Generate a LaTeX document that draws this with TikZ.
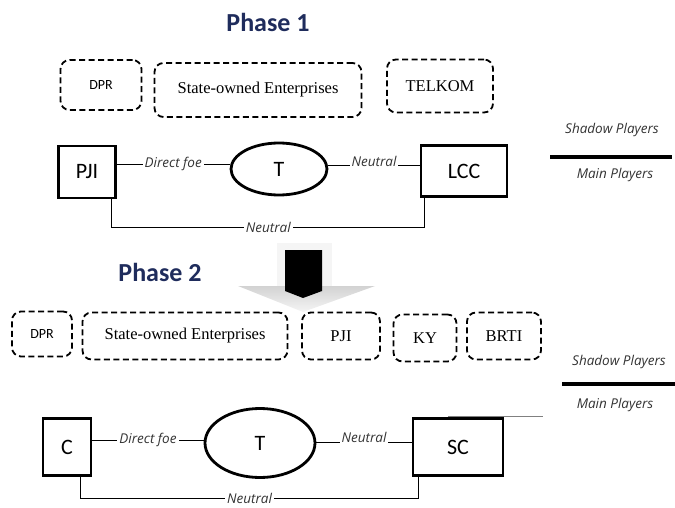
\documentclass[tikz,border=0pt]{standalone}
\usepackage{fontspec}
\setmainfont{Liberation Serif}
\setsansfont{Carlito}
\newfontfamily\labfont{Open Sans}
\usetikzlibrary{shapes.geometric}
\definecolor{phaseblue}{RGB}{31,44,92}
\begin{document}
\begin{tikzpicture}[x=1pt, y=-1pt, line join=miter,
    shadow/.style={draw, dashed, dash pattern=on 6pt off 3.5pt, line width=1.8pt, rounded corners=9pt, inner sep=0pt, font=\fontsize{16.5}{16.5}\selectfont},
    player/.style={draw, line width=2.8pt, inner sep=0pt, font=\sffamily\fontsize{22}{22}\selectfont},
    target/.style={draw, ellipse, line width=2.8pt, inner sep=0pt, font=\sffamily\fontsize{22}{22}\selectfont},
    link/.style={line width=0.9pt},
    lab/.style={fill=white, inner sep=2pt, text=black!80, font=\labfont\itshape\fontsize{13.5}{13.5}\selectfont},
    title/.style={font=\sffamily\bfseries\fontsize{26}{26}\selectfont, text=phaseblue}]
    \useasboundingbox (0,0) rectangle (675,508);
    % phase 1
    \node[title] (phase1) at (268,22) {Phase 1};
    \node[shadow, minimum width=81, minimum height=50, font=\sffamily\fontsize{14}{14}\selectfont] (dpr1) at (101,85) {DPR};
    \node[shadow, minimum width=207, minimum height=54] (soe1) at (258,90) {State-owned Enterprises};
    \node[shadow, minimum width=106, minimum height=53] (telkom) at (440,86) {TELKOM};
    \node[player, minimum width=57, minimum height=52] (pji) at (87,172) {PJI};
    \node[target, minimum width=96, minimum height=52] (t1) at (279,169) {T};
    \node[player, minimum width=86, minimum height=51] (lcc) at (464,171) {LCC};
    \draw[link] ([yshift=8pt]pji.east) -- node[lab]{Direct foe} ([yshift=8pt]pji.east -| t1.west);
    \draw[link] ([yshift=4pt]t1.east) -- node[lab, yshift=4pt]{Neutral} ([yshift=4pt]t1.east -| lcc.west);
    \draw[link] ([xshift=-5pt]pji.south east) -- ++(0,28) -| node[lab, pos=0.25]{Neutral} ([xshift=5pt]lcc.south west);
    \node[lab] (shadowlab1) at (612,130) {Shadow Players};
    \node[lab] (mainlab1) at (615,175) {Main Players};
    \draw[line width=3.5pt] (550,157) -- (672,157);
    % arrow between the phases
    \fill[gray!8] (277,243) rectangle (332,292);
    \shade[top color=gray!35, bottom color=gray!8] (238,286) -- (375,286) -- (303,312) -- cycle;
    \fill[black] (285,250) -- (322,250) -- (322,291) -- (303,298) -- (285,291) -- cycle;
    % phase 2
    \node[title] (phase2) at (160,272) {Phase 2};
    \node[shadow, minimum width=60, minimum height=45, font=\sffamily\fontsize{14}{14}\selectfont] (dpr2) at (42,334) {DPR};
    \node[shadow, minimum width=205, minimum height=47] (soe2) at (185,336) {State-owned Enterprises};
    \node[shadow, minimum width=78, minimum height=47] (pji2) at (341,336) {PJI};
    \node[shadow, minimum width=63, minimum height=47] (ky) at (425,338) {KY};
    \node[shadow, minimum width=74, minimum height=47] (brti) at (504,336) {BRTI};
    \node[player, minimum width=48, minimum height=57] (c) at (67,447) {C};
    \node[target, minimum width=110, minimum height=69] (t2) at (260,443) {T};
    \node[player, minimum width=90, minimum height=57] (sc) at (458,447) {SC};
    \draw[link] ([yshift=7pt]c.east) -- node[lab]{Direct foe} ([yshift=7pt]c.east -| t2.west);
    \draw[link] ([yshift=5pt]sc.west -| t2.east) -- node[lab, yshift=5pt]{Neutral} ([yshift=5pt]sc.west);
    \draw[link] ([xshift=-12pt]c.south east) -- ++(0,22) -| node[lab, pos=0.25, inner ysep=0.5pt]{Neutral} ([xshift=7pt]sc.south west);
    \draw[gray, line width=0.6pt] (448,416) -- (543,416);
    \node[lab] (shadowlab2) at (619,362) {Shadow Players};
    \node[lab] (mainlab2) at (615,405) {Main Players};
    \draw[line width=3.5pt] (562,384) -- (675,384);
\end{tikzpicture}
\end{document}
